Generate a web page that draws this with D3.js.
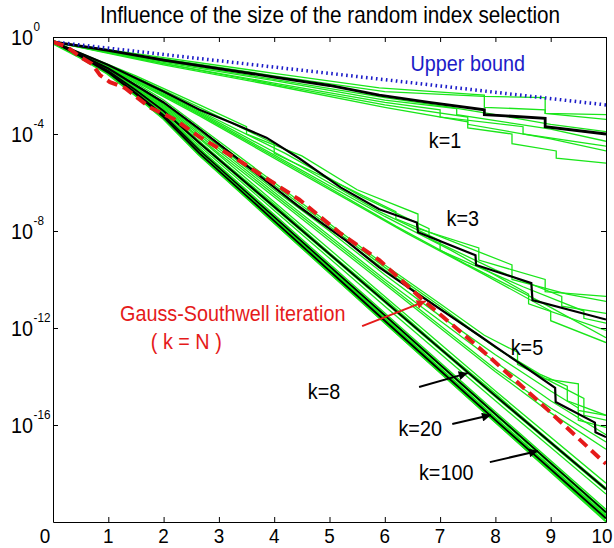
<!DOCTYPE html>
<html><head><meta charset="utf-8">
<script src="https://cdn.jsdelivr.net/npm/d3@7"></script>
<style>body{margin:0;background:#fff}text{font-family:'Liberation Sans',Arial,sans-serif}</style>
</head><body><svg id="c" width="614" height="548"></svg>
<script>
// ---------- data (values are log10 exponents of the error) ----------
const titleText = "Influence of the size of the random index selection";
const xTicks = [0,1,2,3,4,5,6,7,8,9,10];
const yTickExps = [0,-4,-8,-12,-16];

const upperBound = [[0,-0.2],[10,-2.8]];

const k1Black = [[0,-0.2],[1,-0.55],[2,-0.95],[3,-1.3],[4,-1.65],[5,-2.0],[5.9,-2.4],[6.8,-2.7],[7.8,-3.0],[7.8,-3.2],[8.9,-3.35],[8.9,-3.7],[10,-4.0]];
const k1Green = [
 [[0,-0.2],[2,-0.85],[4,-1.5],[5.9,-2.1],[7.8,-2.4],[7.8,-2.9],[8.9,-3.0],[8.9,-3.15],[10,-3.2]],
 [[0,-0.2],[2,-0.9],[4,-1.6],[6,-2.25],[7.8,-2.45],[8.9,-2.5],[8.9,-3.15],[10,-3.4]],
 [[0,-0.2],[2,-1.0],[4,-1.75],[6,-2.5],[7.2,-2.9],[8,-3.2],[9,-3.6],[10,-3.9]],
 [[0,-0.2],[2,-1.05],[4,-1.8],[6,-2.6],[7.3,-2.95],[7.3,-3.2],[9,-3.8],[10,-4.3]],
 [[0,-0.2],[2,-1.1],[4,-1.9],[6,-2.7],[7,-3.0],[7,-3.3],[8.5,-3.7],[8.5,-4.0],[10,-4.5]],
 [[0,-0.2],[2,-1.1],[4,-1.95],[6,-2.8],[7.5,-3.3],[7.5,-3.6],[9,-4.2],[10,-4.7]],
 [[0,-0.2],[2,-1.15],[4,-2.0],[6,-2.9],[7.5,-3.5],[7.5,-3.75],[8.3,-4.0],[8.3,-4.4],[9.1,-4.7],[9.1,-5.0],[10,-5.2]]
];

const k3Black = [[0,-0.2],[1,-1.15],[2,-2.25],[2.65,-3.0],[3.24,-3.55],[3.86,-4.15],[4.45,-5.0],[5.2,-6.2],[5.9,-7.1],[6.58,-7.65],[6.6,-8.05],[7.64,-9.0],[7.65,-9.4],[8.65,-10.15],[8.67,-10.85],[10,-11.65]];
const k3Green = [
 [[0,-0.2],[1.5,-1.6],[2.65,-2.8],[3.5,-3.7],[3.5,-4.0],[4.5,-4.9],[5.5,-6.3],[6.6,-7.3],[6.6,-7.9],[7.7,-8.7],[7.7,-9.2],[8.9,-10.0],[8.9,-10.5],[10,-10.7]],
 [[0,-0.2],[1.5,-1.65],[2.65,-2.9],[4,-4.4],[4,-4.8],[5.3,-6.2],[6.2,-7.2],[6.2,-7.5],[7.3,-8.5],[8.3,-9.4],[8.3,-10.0],[9.3,-10.6],[10,-10.9]],
 [[0,-0.2],[1.5,-1.7],[2.65,-3.05],[4.2,-4.8],[5.6,-6.6],[6.8,-7.9],[6.8,-8.3],[8.0,-9.6],[9.2,-10.7],[9.2,-11.1],[10,-11.4]],
 [[0,-0.2],[1.5,-1.75],[2.65,-3.1],[4.45,-5.3],[5.9,-7.2],[7,-8.4],[7,-8.8],[8.5,-10.3],[9.6,-11.3],[9.6,-11.6],[10,-11.8]],
 [[0,-0.2],[1.5,-1.8],[2.65,-3.15],[4.5,-5.5],[6,-7.4],[7.2,-8.8],[8.6,-10.6],[8.6,-11.0],[10,-12.1]],
 [[0,-0.2],[1.5,-1.8],[2.65,-3.2],[4.6,-5.7],[6.2,-7.8],[7.5,-9.4],[8.8,-10.9],[10,-12.4]],
 [[0,-0.2],[1.5,-1.85],[2.65,-3.25],[4.7,-5.9],[6.4,-8.1],[7.8,-9.8],[9,-11.3],[9,-11.7],[10,-12.6]]
];

const k5Black = [[0,-0.2],[1,-1.3],[2,-2.7],[2.65,-3.8],[3.5,-5.3],[4.45,-7.0],[5.3,-8.4],[5.9,-9.5],[6.6,-10.6],[7.7,-12.3],[8.4,-13.4],[9.08,-14.47],[9.09,-15.05],[9.8,-15.9],[9.81,-16.3],[10,-16.5]];
const k5Green = [
 [[0,-0.2],[1,-1.2],[2,-2.6],[3,-4.3],[4,-6.0],[5,-7.7],[6,-9.4],[7,-11.0],[7.8,-12.3],[8.4,-13.0],[8.4,-13.5],[9.0,-14.2],[9.6,-14.9],[9.6,-15.6],[10,-15.8]],
 [[0,-0.2],[1,-1.25],[2,-2.7],[3,-4.4],[4,-6.2],[5,-7.9],[6,-9.6],[7,-11.2],[8,-12.8],[8.8,-13.9],[9.3,-14.4],[9.3,-15.0],[10,-15.6]],
 [[0,-0.2],[1,-1.3],[2,-2.75],[3,-4.5],[4,-6.3],[5,-8.0],[6,-9.8],[7,-11.5],[8,-13.1],[9,-14.6],[9.5,-15.3],[9.5,-15.8],[10,-16.1]],
 [[0,-0.2],[1,-1.3],[2,-2.8],[3,-4.6],[4,-6.4],[5,-8.2],[6,-10.0],[7,-11.7],[8,-13.4],[9,-15.0],[10,-16.4]],
 [[0,-0.2],[1,-1.35],[2,-2.85],[3,-4.7],[4,-6.5],[5,-8.3],[6,-10.1],[7,-11.9],[8,-13.7],[9,-15.3],[10,-16.7]],
 [[0,-0.2],[1,-1.35],[2,-2.9],[3,-4.8],[4,-6.6],[5,-8.4],[6,-10.2],[7,-12.0],[8,-13.8],[9,-15.5],[10,-17.0]],
 [[0,-0.2],[1,-1.25],[2,-2.7],[3,-4.4],[4,-6.1],[5,-7.8],[6,-9.5],[7,-11.1],[8,-12.8],[8.9,-14.1],[9.5,-14.3],[9.5,-15.4],[10,-15.6]]
];

const k8Black = [[0,-0.2],[0.5,-0.75],[1,-1.4],[1.5,-2.2],[2,-3.05],[2.65,-4.37],[4,-7.0],[6,-10.9],[8,-14.8],[10,-18.65]];
const k8Green = [
 [[0,-0.2],[0.5,-0.7],[1,-1.35],[1.5,-2.1],[2,-2.95],[2.65,-4.2],[4,-6.8],[6,-10.7],[8,-14.6],[10,-18.4]],
 [[0,-0.2],[0.5,-0.8],[1,-1.45],[1.5,-2.3],[2,-3.15],[2.65,-4.5],[4,-7.15],[6,-11.1],[8,-15.0],[10,-18.85]],
 [[0,-0.2],[1,-1.4],[2,-3.0],[3,-5.0],[4,-6.9],[5,-8.9],[6,-10.8],[7,-12.8],[8,-14.7],[9,-16.7],[10,-18.6]]
];

const k20Black = [[0,-0.2],[0.5,-0.78],[1,-1.45],[1.5,-2.3],[2,-3.22],[2.65,-4.68],[4,-7.42],[6,-11.48],[8,-15.55],[10,-19.6]];
const k20Green = [
 [[0,-0.2],[0.5,-0.76],[1,-1.43],[1.5,-2.25],[2,-3.15],[2.65,-4.6],[4,-7.32],[6,-11.38],[8,-15.45],[10,-19.48]],
 [[0,-0.2],[1,-1.46],[2,-3.2],[3,-5.35],[4,-7.45],[5,-9.5],[6,-11.52],[7,-13.55],[8,-15.6],[9,-17.62],[10,-19.65]]
];

const k100Black = [[0,-0.2],[0.5,-0.8],[1,-1.47],[1.5,-2.35],[2,-3.3],[2.65,-4.8],[4,-7.58],[6,-11.7],[8,-15.8],[10,-19.85]];
const k100Green = [
 [[0,-0.2],[0.5,-0.78],[1,-1.44],[1.5,-2.3],[2,-3.25],[2.65,-4.72],[4,-7.48],[6,-11.6],[8,-15.7],[10,-19.72]],
 [[0,-0.2],[0.5,-0.82],[1,-1.5],[1.5,-2.4],[2,-3.38],[2.65,-4.88],[4,-7.68],[6,-11.8],[8,-15.9],[10,-20.0]],
 [[0,-0.2],[1,-1.48],[2,-3.32],[3,-5.5],[4,-7.62],[5,-9.68],[6,-11.75],[7,-13.8],[8,-15.85],[9,-17.9],[10,-19.95]]
];

const gaussSouthwell = [[0,-0.2],[0.25,-0.4],[0.49,-0.82],[0.7,-1.1],[0.85,-1.57],[1.03,-1.86],[1.3,-2.1],[1.75,-2.9],[2.2,-3.4],[2.65,-4.12],[3.3,-5.0],[4.45,-6.7],[5.2,-8.1],[5.9,-9.2],[6.67,-10.8],[7.7,-12.8],[8.77,-15.0],[9.9,-17.4],[10,-17.6]];

const labelTexts = ["Upper bound","k=1","k=3","k=5","k=8","k=20","k=100","Gauss-Southwell iteration","( k = N )"];
const labelX =     [7.50, 7.09, 7.41, 8.57, 4.90, 6.64, 7.11, 3.25, 2.41];
const labelE =     [-1.07,-4.25,-7.46,-12.78,-14.6,-16.12,-17.94,-11.38,-12.54];
const labelColor = ["#1c1cc8","#000","#000","#000","#000","#000","#000","#e51a1a","#e51a1a"];

// arrows: [x0,e0,x1,e1] (tail -> tip)
const arrowCoords = [[5.59,-11.92,6.74,-10.89],[6.62,-14.43,7.50,-13.86],[7.22,-15.96,7.92,-15.59],[7.90,-17.53,8.77,-17.07]];
const arrowColor = ["#e51a1a","#000","#000","#000"];

// ---------- drawing ----------
const L=53,R=606,T=37,B=522;
const SX=0.9;
const svg=d3.select("#c");
const x=d3.scaleLinear().domain([0,10]).range([L,R]);
const y=d3.scaleLog().domain([1e-20,1]).range([B,T]);
const line=d3.line().x(d=>x(d[0])).y(d=>y(Math.pow(10,d[1])));
function txt(parent,px,py,str,size,anchor,color){
  return parent.append("text").attr("transform",`translate(${px},${py}) scale(${SX},1)`)
    .attr("text-anchor",anchor).attr("font-size",size).attr("fill",color||"#000").text(str);
}

const defs=svg.append("defs");
defs.append("clipPath").attr("id","clip")
  .append("rect").attr("x",L).attr("y",T).attr("width",R-L).attr("height",B-T);
[["ahR","#e51a1a"],["ahK","#000"]].forEach(([id,c])=>{
  defs.append("marker").attr("id",id).attr("viewBox","0 0 10 10").attr("refX",10).attr("refY",5)
   .attr("markerWidth",14).attr("markerHeight",9).attr("markerUnits","userSpaceOnUse").attr("orient","auto")
   .append("path").attr("d","M0,0L10,5L0,10z").attr("fill",c);
});

const g=svg.append("g").attr("clip-path","url(#clip)");
const GREEN="#19e619";
// green bands behind the lower bundles
[[k8Black,3],[k20Black,2.5],[k100Black,5]].forEach(([s,w])=>g.append("path").attr("d",line(s)).attr("fill","none").attr("stroke",GREEN).attr("stroke-width",w));
const greens=[k1Green,k3Green,k5Green,k8Green,k20Green,k100Green];
greens.forEach(grp=>grp.forEach(s=>g.append("path").attr("d",line(s)).attr("fill","none").attr("stroke",GREEN).attr("stroke-width",1.3)));
const blacks=[[k1Black,2.8],[k3Black,2.2],[k5Black,2.2],[k8Black,1.8],[k20Black,1.6],[k100Black,1.8]];
blacks.forEach(([s,w])=>g.append("path").attr("d",line(s)).attr("fill","none").attr("stroke","#000").attr("stroke-width",w));
g.append("path").attr("d",line(upperBound)).attr("fill","none").attr("stroke","#1c1cc8").attr("stroke-width",3.5).attr("stroke-dasharray","1.6,3.4");
g.append("path").attr("d",line(gaussSouthwell)).attr("fill","none").attr("stroke","#e51a1a").attr("stroke-width",4).attr("stroke-dasharray","11,6");

// axes box
const ax=svg.append("g");
function styleAxis(sel){sel.selectAll("path,line").attr("stroke","#000").attr("stroke-width",1);sel.selectAll("text").remove();}
ax.append("g").attr("transform",`translate(0,${B})`).call(d3.axisBottom(x).tickValues(xTicks).tickSize(-5).tickSizeOuter(0)).call(styleAxis);
ax.append("g").attr("transform",`translate(0,${T})`).call(d3.axisTop(x).tickValues(xTicks).tickSize(-5).tickSizeOuter(0)).call(styleAxis);
const yTv=yTickExps.map(e=>Math.pow(10,e));
ax.append("g").attr("transform",`translate(${L},0)`).call(d3.axisLeft(y).tickValues(yTv).tickSize(-5).tickSizeOuter(0)).call(styleAxis);
ax.append("g").attr("transform",`translate(${R},0)`).call(d3.axisRight(y).tickValues(yTv).tickSize(-5).tickSizeOuter(0)).call(styleAxis);

// x tick labels
const xl=svg.append("g");
xTicks.forEach((d,i)=>txt(xl,x(d)+(i===0?-8:(i===xTicks.length-1?-4:0)),B+21,String(d),21,"middle"));
// y tick labels
const yl=svg.append("g");
yTickExps.forEach(e=>{
  const py=y(Math.pow(10,e));
  txt(yl,33,py+8,"10",22,"end");
  txt(yl,33.5,py-6,String(e),13,"start");
});

// title
txt(svg,330,23,titleText,23,"middle");

// labels
labelTexts.forEach((t,i)=>txt(svg,x(labelX[i]),y(Math.pow(10,labelE[i]))+8,t,22,"middle",labelColor[i]));
// arrows
arrowCoords.forEach((a,i)=>{
  svg.append("line").attr("x1",x(a[0])).attr("y1",y(Math.pow(10,a[1]))).attr("x2",x(a[2])).attr("y2",y(Math.pow(10,a[3])))
   .attr("stroke",arrowColor[i]).attr("stroke-width",2).attr("marker-end",`url(#${i===0?"ahR":"ahK"})`);
});
</script></body></html>
